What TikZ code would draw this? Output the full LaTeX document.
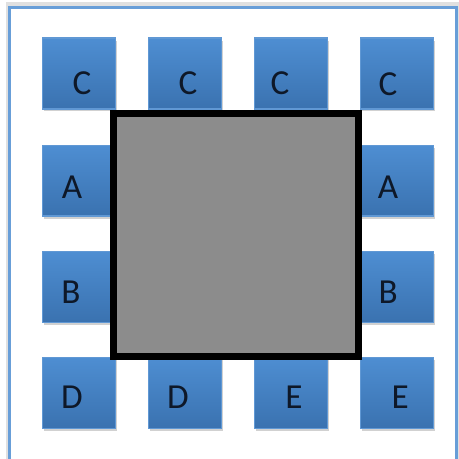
\documentclass[tikz,border=0pt]{standalone}
\usepackage{fontspec}
\setmainfont{Carlito}
\usepackage{xcolor}
\usetikzlibrary{positioning, calc, shadows}
\definecolor{frameBlue}{RGB}{104, 158, 216}
\definecolor{boxTop}{RGB}{78, 142, 210}
\definecolor{boxBottom}{RGB}{58, 114, 176}
\definecolor{boxEdge}{RGB}{96, 152, 212}
\definecolor{coreGray}{RGB}{140, 140, 140}
\definecolor{inkNavy}{RGB}{14, 24, 40}

\begin{document}
\begin{tikzpicture}[
  x=0.02cm, y=-0.02cm,
  pad/.style={rectangle, draw=boxEdge, line width=0.6pt, top color=boxTop, bottom color=boxBottom, minimum width=1.46cm, minimum height=1.42cm, inner sep=0pt, drop shadow={shadow xshift=0.03cm, shadow yshift=-0.05cm, fill=black, opacity=0.18}},
  tag/.style={font=\fontsize{20}{24}\selectfont, text=inkNavy, inner sep=0pt},
  core/.style={rectangle, draw=black, line width=0.14cm, fill=coreGray, minimum width=4.91cm, minimum height=4.86cm, inner sep=0pt}
]
  \clip (0,0) rectangle (459,459);
  \fill[white] (0,0) rectangle (459,459);
  \draw[black!12, line width=0.1cm] (8,5) rectangle (459,470);
  \draw[frameBlue, line width=0.06cm] (9.5,7.5) rectangle (456.5,470);

  % top row
  \node[pad] (c1) at (79,73.5) {};
  \node[pad, right=0.64cm of c1] (c2) {};
  \node[pad, right=0.64cm of c2] (c3) {};
  \node[pad, right=0.64cm of c3] (c4) {};
  % side rows
  \node[pad, below=0.7cm of c1] (a1) {};
  \node[pad, below=0.7cm of c4] (a2) {};
  \node[pad, below=0.68cm of a1] (b1) {};
  \node[pad, below=0.68cm of a2] (b2) {};
  % bottom row
  \node[pad, below=0.68cm of b1] (d1) {};
  \node[pad, right=0.64cm of d1] (d2) {};
  \node[pad, right=0.64cm of d2] (e1) {};
  \node[pad, right=0.64cm of e1] (e2) {};

  \node[tag] (tc1) at ($(c1.center)+(3,10)$) {C};
  \node[tag] (tc2) at ($(c2.center)+(3,10)$) {C};
  \node[tag] (tc3) at ($(c3.center)+(-11,10)$) {C};
  \node[tag] (tc4) at ($(c4.center)+(-9,11)$) {C};
  \node[tag] (ta1) at ($(a1.center)+(-7,7)$) {A};
  \node[tag] (ta2) at ($(a2.center)+(-9,7)$) {A};
  \node[tag] (tb1) at ($(b1.center)+(-8,6)$) {B};
  \node[tag] (tb2) at ($(b2.center)+(-9,6)$) {B};
  \node[tag] (td1) at ($(d1.center)+(-7,5)$) {D};
  \node[tag] (td2) at ($(d2.center)+(-7,5)$) {D};
  \node[tag] (te1) at ($(e1.center)+(3,5)$) {E};
  \node[tag] (te2) at ($(e2.center)+(3,5)$) {E};

  \node[core] (chip) at (236.25,235) {};
\end{tikzpicture}
\end{document}
